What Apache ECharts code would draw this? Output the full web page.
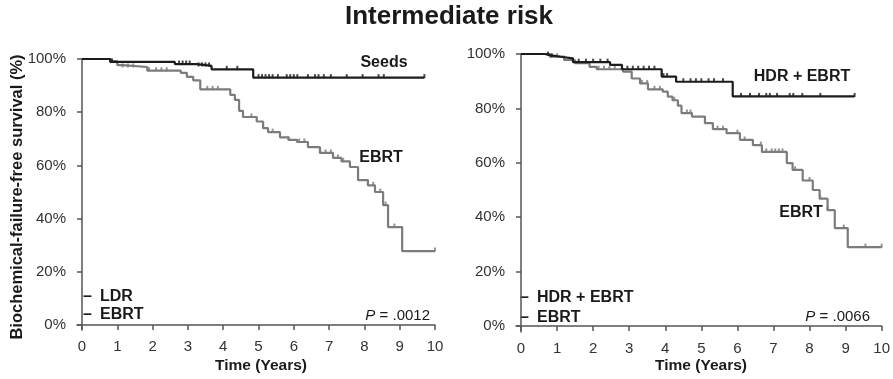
<!DOCTYPE html>
<html>
<head>
<meta charset="utf-8">
<script src="https://cdn.jsdelivr.net/npm/echarts@6/dist/echarts.min.js"></script>
<style>
html,body{margin:0;padding:0;background:#fff;}
#c{width:893px;height:379px;}
</style>
</head>
<body>
<div id="c"></div>
<script>
// ---- Data ----
const xTicks = [0,1,2,3,4,5,6,7,8,9,10];
const yTicks = [0,20,40,60,80,100];

// Left panel: LDR (Seeds) vs EBRT
const leftSeedsT = [0, 0.8, 2.63, 3.25, 3.67, 4.85, 9.7];
const leftSeedsS = [100, 98.9, 98.1, 97.4, 96.1, 93.0, 93.0];
const leftSeedsCensor = [0.85, 2.75, 2.85, 2.95, 3.05, 3.3, 3.4, 3.5, 3.6, 4.1, 4.4, 5.0, 5.1, 5.2, 5.3, 5.4, 5.55, 5.8, 5.9, 6.0, 6.1, 6.4, 6.6, 6.7, 6.85, 7.05, 7.5, 7.95, 8.4, 8.55, 9.7];

const leftEbrtT = [0, 0.8, 1.0, 1.15, 1.85, 2.8, 2.97, 3.15, 3.35, 4.2, 4.33, 4.45, 4.56, 4.95, 5.13, 5.27, 5.61, 5.85, 6.09, 6.4, 6.74, 7.11, 7.35, 7.59, 7.82, 8.1, 8.3, 8.53, 8.67, 9.07, 10.0];
const leftEbrtS = [100, 99.2, 97.7, 97.0, 95.6, 94.8, 93.3, 92.0, 88.6, 86.5, 84.6, 80.5, 78.2, 76.5, 74.0, 72.5, 70.5, 69.6, 68.8, 66.9, 64.7, 62.8, 61.5, 59.4, 54.5, 52.5, 50.0, 45.1, 36.8, 27.8, 27.8];
const leftEbrtCensor = [1.15, 1.3, 1.45, 1.9, 2.1, 2.25, 2.4, 3.55, 3.7, 3.85, 4.8, 5.4, 5.85, 6.15, 6.3, 6.75, 6.9, 7.05, 7.25, 7.4, 8.1, 8.25, 8.45, 8.6, 8.85, 10.0];

// Right panel: HDR + EBRT vs EBRT
const rightHdrT = [0, 0.66, 0.8, 1.1, 1.44, 2.47, 2.8, 3.9, 4.3, 5.87, 9.25];
const rightHdrS = [100, 99.6, 99.0, 98.4, 97.0, 96.0, 94.4, 91.7, 89.8, 84.4, 84.4];
const rightHdrCensor = [0.75, 0.85, 1.6, 1.8, 2.0, 2.2, 2.4, 2.95, 3.1, 3.25, 3.4, 3.55, 3.7, 3.95, 4.05, 4.5, 4.7, 4.85, 5.0, 5.2, 5.35, 5.6, 6.1, 6.35, 6.6, 6.8, 6.9, 7.1, 7.45, 7.55, 7.8, 8.3, 9.25];

const rightEbrtT = [0, 0.8, 1.2, 1.5, 1.9, 2.1, 2.83, 3.07, 3.3, 3.52, 3.93, 4.07, 4.2, 4.35, 4.45, 4.74, 5.1, 5.32, 5.7, 6.07, 6.43, 6.68, 7.37, 7.53, 7.81, 8.09, 8.28, 8.5, 8.7, 9.06, 10.0];
const rightEbrtS = [100, 99.0, 97.8, 96.6, 95.3, 94.4, 93.5, 91.0, 89.2, 87.0, 86.2, 84.3, 83.0, 81.0, 78.3, 77.0, 74.6, 72.4, 70.9, 68.4, 66.5, 64.0, 59.9, 57.4, 53.5, 50.0, 46.8, 42.6, 36.0, 29.0, 29.0];
const rightEbrtCensor = [1.0, 1.2, 2.15, 2.3, 2.45, 2.6, 3.35, 3.5, 3.7, 3.85, 4.25, 4.6, 4.7, 5.45, 5.6, 6.0, 6.2, 6.65, 6.8, 6.95, 7.05, 7.15, 7.25, 7.6, 8.0, 8.3, 8.5, 8.95, 9.55, 10.0];

// ---- Helpers ----
const FONT = '"Liberation Sans", Arial, Helvetica, sans-serif';
const BLACK = '#1c1c1c';
const GRAY = '#7c7c7c';
const AXIS = '#555';

function zip(T, S) { return T.map((t, i) => [t, S[i]]); }
function stepAt(T, S, t) {
  let v = S[0];
  for (let i = 0; i < T.length; i++) if (T[i] <= t) v = S[i];
  return v;
}
function censorData(T, S, C) { return C.map(t => [t, stepAt(T, S, t)]); }

function curve(T, S, color, width, idx, z) {
  return {
    type: 'line', step: 'end', xAxisIndex: idx, yAxisIndex: idx,
    data: zip(T, S), showSymbol: false, z: z,
    lineStyle: { color: color, width: width }, silent: true
  };
}
function censor(T, S, C, color, idx, z) {
  return {
    type: 'scatter', xAxisIndex: idx, yAxisIndex: idx,
    data: censorData(T, S, C), symbol: 'rect', symbolSize: [2, 4],
    symbolOffset: [0, -1.5], itemStyle: { color: color }, z: z, silent: true
  };
}

function xAxisCfg(gridIndex, min) {
  return {
    type: 'value', gridIndex: gridIndex, min: min, max: 10,
    axisLine: { show: true, lineStyle: { color: AXIS, width: 1.5 } },
    axisTick: { show: true, length: 5, customValues: xTicks, lineStyle: { color: AXIS, width: 1.5 } },
    axisLabel: { customValues: xTicks, margin: 9, color: '#333', fontSize: 15, fontFamily: FONT },
    splitLine: { show: false }
  };
}
function yAxisCfg(gridIndex, min) {
  return {
    type: 'value', gridIndex: gridIndex, min: min, max: 100,
    axisLine: { show: true, lineStyle: { color: AXIS, width: 1.5 } },
    axisTick: { show: true, length: 5, customValues: yTicks, lineStyle: { color: AXIS, width: 1.5 } },
    axisLabel: { customValues: yTicks, margin: 11, color: '#333', fontSize: 15, fontFamily: FONT,
      formatter: v => v + '%' },
    splitLine: { show: false }
  };
}

function label(text, x, y, opts) {
  opts = opts || {};
  return {
    type: 'text', x: x, y: y, rotation: opts.rotation || 0, silent: true,
    style: {
      text: text, fill: opts.color || '#1a1a1a',
      font: (opts.weight || 'bold') + ' ' + (opts.size || 16) + 'px ' + FONT,
      align: opts.align || 'center', verticalAlign: 'middle', rich: opts.rich
    }
  };
}

const chart = echarts.init(document.getElementById('c'), null, { renderer: 'canvas' });
chart.setOption({
  animation: false,
  backgroundColor: '#fff',
  grid: [
    { left: 77, top: 59, width: 358, height: 271 },
    { left: 516, top: 54, width: 366, height: 278 }
  ],
  xAxis: [xAxisCfg(0, -0.142), xAxisCfg(1, -0.139)],
  yAxis: [yAxisCfg(0, -1.88), yAxisCfg(1, -2.2)],
  series: [
    curve(leftEbrtT, leftEbrtS, GRAY, 2.2, 0, 2),
    censor(leftEbrtT, leftEbrtS, leftEbrtCensor, GRAY, 0, 3),
    curve(leftSeedsT, leftSeedsS, BLACK, 2.2, 0, 4),
    censor(leftSeedsT, leftSeedsS, leftSeedsCensor, BLACK, 0, 5),
    curve(rightEbrtT, rightEbrtS, GRAY, 2.2, 1, 2),
    censor(rightEbrtT, rightEbrtS, rightEbrtCensor, GRAY, 1, 3),
    curve(rightHdrT, rightHdrS, BLACK, 2.2, 1, 4),
    censor(rightHdrT, rightHdrS, rightHdrCensor, BLACK, 1, 5)
  ],
  graphic: [
    label('Intermediate risk', 449, 17, { size: 26 }),
    label('Biochemical-failure-free survival (%)', 17, 197, { size: 16.5, rotation: Math.PI / 2 }),
    label('Time (Years)', 261, 366, { size: 15.5 }),
    label('Time (Years)', 701, 366, { size: 15.5 }),
    label('Seeds', 384, 63),
    label('EBRT', 381, 158),
    label('HDR + EBRT', 802, 77),
    label('EBRT', 801, 213),
    label('–', 83, 297, { align: 'left' }),
    label('LDR', 100, 297, { align: 'left' }),
    label('–', 83, 315, { align: 'left' }),
    label('EBRT', 100, 315, { align: 'left' }),
    label('–', 520, 298, { align: 'left' }),
    label('HDR + EBRT', 537, 298, { align: 'left' }),
    label('–', 520, 318, { align: 'left' }),
    label('EBRT', 537, 318, { align: 'left' }),
    label('{i|P} = .0012', 430, 316, { align: 'right', weight: 'normal', size: 15,
      rich: { i: { fontStyle: 'italic', fontSize: 15, fontFamily: FONT, fill: '#1a1a1a' } } }),
    label('{i|P} = .0066', 870, 317, { align: 'right', weight: 'normal', size: 15,
      rich: { i: { fontStyle: 'italic', fontSize: 15, fontFamily: FONT, fill: '#1a1a1a' } } })
  ]
});
</script>
</body>
</html>
